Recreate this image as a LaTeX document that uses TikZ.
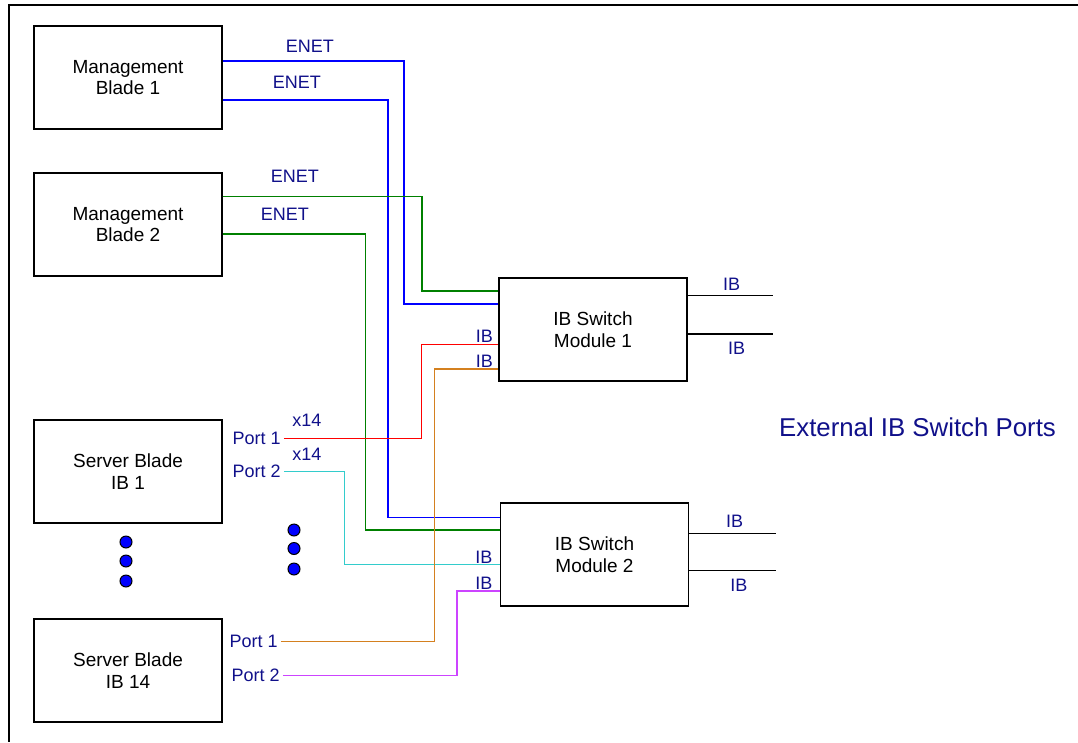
\documentclass[tikz,border=0pt]{standalone}
\usepackage{fontspec}
\setmainfont{Liberation Sans}
\usetikzlibrary{positioning, calc}
\definecolor{ibInk}{HTML}{000000}
\definecolor{ibLabel}{HTML}{10108A}
\definecolor{ibBlue}{HTML}{0000FF}
\definecolor{ibGreen}{HTML}{008000}
\definecolor{ibRed}{HTML}{FF0000}
\definecolor{ibOrange}{HTML}{D4801F}
\definecolor{ibCyan}{HTML}{33CCCC}
\definecolor{ibMagenta}{HTML}{CC44FF}
\tikzset{
  ibbox/.style={
    draw=ibInk, line width=1.8pt, minimum width=188pt, minimum height=103pt,
    inner sep=0pt, align=center, font=\fontsize{19}{21.5}\selectfont,
  },
  iblabel/.style={
    text=ibLabel, inner sep=0pt, font=\fontsize{18}{20}\selectfont,
  },
  ibportlabel/.style={
    iblabel, anchor=east, inner xsep=3pt,
  },
  ibwire/.style={
    draw=#1, line width=1.4pt,
  },
  ibext/.style={
    draw=ibInk, line width=1.5pt,
  },
  ibdot/.style={
    circle, draw=ibInk, fill=ibBlue, line width=1pt, minimum size=12pt,
    inner sep=0pt,
  },
}

\begin{document}
\begin{tikzpicture}[x=1pt, y=-1pt, node distance=0pt]
\useasboundingbox (0,0) rectangle (1078,742);

% Frame -------------------------------------------------------------------
\draw[line width=2pt] (1078,5) -- (9,5) -- (9,742);

% Blades ------------------------------------------------------------------
\node[ibbox] (mb1) at (128,77.5) {Management\\Blade 1};
\node[ibbox, below=42.5pt of mb1] (mb2) {Management\\Blade 2};
\node[ibbox, below=142pt of mb2] (sb1) {Server Blade\\IB 1};
\node[ibbox, below=94pt of sb1] (sb14) {Server Blade\\IB 14};

% Switches ----------------------------------------------------------------
\node[ibbox] (sw1) at (593,329.5) {IB Switch\\Module 1};
\node[ibbox] (sw2) at (594.5,554.5) {IB Switch\\Module 2};

% Ports -------------------------------------------------------------------
\node[ibportlabel] (p1a) at ($(sb1.east)+(61,-33)$) {Port 1};
\node[ibportlabel] (p1b) at ($(sb1.east)+(61,0)$) {Port 2};
\node[ibportlabel] (p14a) at ($(sb14.east)+(58,-29)$) {Port 1};
\node[ibportlabel] (p14b) at ($(sb14.east)+(60,5)$) {Port 2};
\node[iblabel] (x1a) at ($(p1a.east)+(23,-18)$) {x14};
\node[iblabel] (x1b) at ($(p1b.east)+(23,-17.6)$) {x14};

% ENET links --------------------------------------------------------------
\node[iblabel] (e1) at ($(mb1.north east)+(87,21)$) {ENET};
\node[iblabel] (e2) at ($(mb1.north east)+(74,57.6)$) {ENET};
\node[iblabel] (e3) at ($(mb2.north east)+(72,4.3)$) {ENET};
\node[iblabel] (e4) at ($(mb2.north east)+(62,42)$) {ENET};

\draw[ibwire=ibBlue] ($(mb1.north east)+(0,36)$) -- ++(181,0)
  |- ($(sw1.north west)+(0,27)$);
\draw[ibwire=ibBlue] ($(mb1.north east)+(0,75)$) -- ++(165,0)
  |- ($(sw2.north west)+(0,15.5)$);
\draw[ibwire=ibGreen] ($(mb2.north east)+(0,24)$) -- ++(199,0)
  |- ($(sw1.north west)+(0,14)$);
\draw[ibwire=ibGreen] ($(mb2.north east)+(0,61.6)$) -- ++(142.5,0)
  |- ($(sw2.north west)+(0,28)$);

% IB links ----------------------------------------------------------------
\draw[ibwire=ibRed] (p1a.east) -- ++(137.5,0) |- ($(sw1.north west)+(0,67.5)$);
\draw[ibwire=ibCyan] (p1b.east) -- ++(60.5,0) |- ($(sw2.north west)+(0,62.5)$);
\draw[ibwire=ibOrange] (p14a.east) -- ++(153.6,0) |- ($(sw1.north west)+(0,92)$);
\draw[ibwire=ibMagenta] (p14b.east) -- ++(174,0) |- ($(sw2.north west)+(0,89)$);

\node[iblabel, anchor=east] (i1a) at ($(sw1.north west)+(-5,59.6)$) {IB};
\node[iblabel, anchor=east] (i1b) at ($(sw1.north west)+(-5,84.6)$) {IB};
\node[iblabel, anchor=east] (i2a) at ($(sw2.north west)+(-7,55.2)$) {IB};
\node[iblabel, anchor=east] (i2b) at ($(sw2.north west)+(-7,81.2)$) {IB};

% External ports ----------------------------------------------------------
\coordinate (o1a) at ($(sw1.north east)+(85.4,18.6)$);
\coordinate (o1b) at ($(sw1.north east)+(85.4,56.9)$);
\coordinate (o2a) at ($(sw2.north east)+(86.8,31.6)$);
\coordinate (o2b) at ($(sw2.north east)+(86.8,68.6)$);
\foreach \s/\o in {sw1/o1a, sw1/o1b, sw2/o2a, sw2/o2b}{%
  \draw[ibext] (\s.east |- \o) -- (\o);
}
\node[iblabel] (r1a) at ($(o1a)+(-41.6,-11.7)$) {IB};
\node[iblabel] (r1b) at ($(o1b)+(-36.6,14.7)$) {IB};
\node[iblabel] (r2a) at ($(o2a)+(-41.7,-12)$) {IB};
\node[iblabel] (r2b) at ($(o2b)+(-37.4,14.3)$) {IB};

\node[iblabel, font=\fontsize{25.8}{30}\selectfont] (ext) at (917.5,427.5)
  {External IB Switch Ports};

% Ellipsis dots -----------------------------------------------------------
\foreach \y [count=\i] in {542,561,581}{%
  \node[ibdot] (dl\i) at (126,\y) {};
}
\foreach \y [count=\i] in {530,548.5,569}{%
  \node[ibdot] (dr\i) at (294,\y) {};
}

\end{tikzpicture}
\end{document}
